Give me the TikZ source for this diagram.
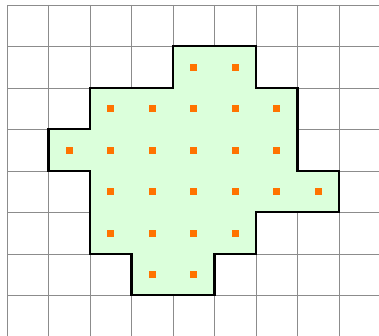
\documentclass[tikz,border=0pt]{standalone}
\begin{document}
\begin{tikzpicture}[x=1cm,y=-1cm,
  gridline/.style={draw=black!45,line width=0.6pt},
  region/.style={draw=black,line width=1.4pt,fill=green!14,line join=miter},
  dot/.style={fill=orange!90!red,minimum size=0.17cm,inner sep=0pt,outer sep=0pt}]
\useasboundingbox (-0.169,-0.12) rectangle (8.964,7.976);
\foreach \i in {0,...,8} \draw[gridline] (\i,0) -- (\i,7.976);
\foreach \j in {0,...,7} \draw[gridline] (0,\j) -- (8.964,\j);
\draw[region] (4,1) -- (6,1) -- (6,2) -- (7,2) -- (7,4) -- (8,4) -- (8,5) -- (6,5) -- (6,6) -- (5,6) -- (5,7) -- (3,7) -- (3,6) -- (2,6) -- (2,4) -- (1,4) -- (1,3) -- (2,3) -- (2,2) -- (4,2) -- cycle;
\foreach \i in {4,5} \node[dot] (d1-\i) at (\i+0.5,1.5) {};
\foreach \i in {2,...,6} \node[dot] (d2-\i) at (\i+0.5,2.5) {};
\foreach \i in {1,...,6} \node[dot] (d3-\i) at (\i+0.5,3.5) {};
\foreach \i in {2,...,7} \node[dot] (d4-\i) at (\i+0.5,4.5) {};
\foreach \i in {2,...,5} \node[dot] (d5-\i) at (\i+0.5,5.5) {};
\foreach \i in {3,4} \node[dot] (d6-\i) at (\i+0.5,6.5) {};
\end{tikzpicture}
\end{document}
